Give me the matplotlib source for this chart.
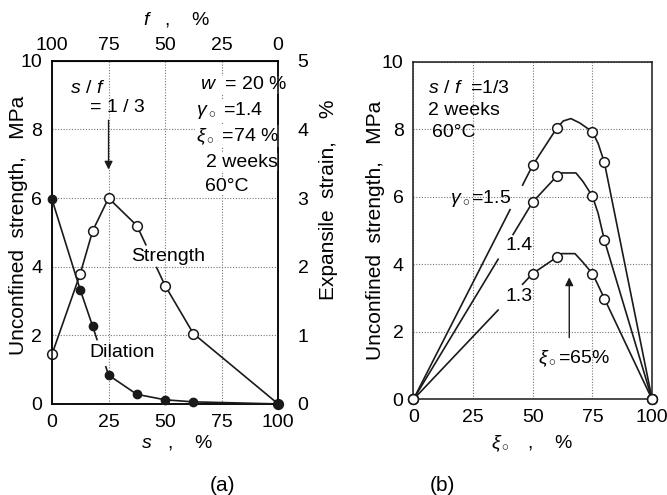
import numpy as np
import matplotlib.pyplot as plt

plt.rcParams['font.family'] = ['Liberation Sans', 'DejaVu Sans']
plt.rcParams['font.size'] = 14
plt.rcParams['mathtext.fontset'] = 'custom'
plt.rcParams['mathtext.rm'] = 'Liberation Sans'
plt.rcParams['mathtext.it'] = 'Liberation Sans:italic'

# ---- panel (a) data
s_pct = [0, 12.5, 18, 25, 37.5, 50, 62.5, 100]
strength_a = [1.45, 3.8, 5.05, 6.0, 5.2, 3.45, 2.05, 0.0]
dilation_a = [2.98, 1.66, 1.13, 0.42, 0.14, 0.06, 0.03, 0.0]

# ---- panel (b) data: measured points and drawn curves
xi_pts = [0, 50, 60, 75, 80, 100]
pts_15 = [0, 6.94, 8.03, 7.93, 7.02, 0]
pts_14 = [0, 5.85, 6.61, 6.02, 4.72, 0]
pts_13 = [0, 3.73, 4.21, 3.73, 2.99, 0]

curve_x_15 = [50, 60, 62.8, 66.0, 69.7, 75, 77.4, 80, 100]
curve_y_15 = [6.94, 8.03, 8.25, 8.32, 8.19, 7.93, 7.58, 7.02, 0]
curve_x_14 = [50, 60, 62.1, 68.1, 71.1, 75, 77.4, 80, 100]
curve_y_14 = [5.85, 6.61, 6.71, 6.71, 6.45, 6.02, 5.51, 4.72, 0]
curve_x_13 = [50, 60, 62.1, 67.7, 70.8, 75, 77.0, 80, 100]
curve_y_13 = [3.73, 4.21, 4.32, 4.32, 4.08, 3.73, 3.44, 2.99, 0]

LW = 1.2
K = '#1a1a1a'


def gapline(ax, x, y, seg, t0, t1, **kw):
    # polyline with a gap on segment seg between fractions t0..t1
    x = list(x); y = list(y)
    xa = x[seg] + t0 * (x[seg + 1] - x[seg]); ya = y[seg] + t0 * (y[seg + 1] - y[seg])
    xb = x[seg] + t1 * (x[seg + 1] - x[seg]); yb = y[seg] + t1 * (y[seg + 1] - y[seg])
    ax.plot(x[:seg + 1] + [xa], y[:seg + 1] + [ya], **kw)
    ax.plot([xb] + x[seg + 1:], [yb] + y[seg + 1:], **kw)


def style(ax):
    ax.grid(True, ls=(0, (1, 1.5)), color='#777777', lw=0.8)
    ax.tick_params(length=0, pad=7)
    for sp in ax.spines.values():
        sp.set_linewidth(1.1)
        sp.set_color(K)


fig = plt.figure(figsize=(6.67, 4.95), dpi=100)

# ================= (a)
ax = fig.add_axes([0.078, 0.184, 0.339, 0.693])
ax.set_xlim(0, 100)
ax.set_ylim(0, 10)
ax.set_xticks([0, 25, 50, 75, 100])
ax.set_yticks([0, 2, 4, 6, 8, 10])
style(ax)
ax.set_ylabel('Unconfined  strength,   MPa', fontsize=15)
ax.yaxis.set_label_coords(-0.105, 0.52)
ax.set_xlabel('$\\it{s}$   ,    %')
ax.xaxis.set_label_coords(0.55, -0.085)

ax2 = ax.twinx()
ax2.set_ylim(0, 5)
ax2.set_yticks([0, 1, 2, 3, 4, 5])
ax2.tick_params(length=0, pad=14)
ax2.set_ylabel('Expansile  strain,    %', fontsize=15)
ax2.yaxis.set_label_coords(1.18, 0.595)
for sp in ax2.spines.values():
    sp.set_linewidth(1.1)

top = ax.secondary_xaxis('top', functions=(lambda v: 100 - v, lambda v: 100 - v))
top.set_xticks([100, 75, 50, 25, 0])
top.tick_params(length=0, pad=5)
ax.text(0.55, 1.12, '$\\it{f}$   ,    %', transform=ax.transAxes, ha='center', va='center')

# strength with gap for label
gapline(ax, s_pct, strength_a, 4, 0.32, 0.7, color=K, lw=LW, zorder=3)
ax.plot(s_pct, strength_a, 'o', ms=7, mfc='white', mec=K, mew=1.1, zorder=4, clip_on=False)
# dilation (right axis units)
gapline(ax2, s_pct, dilation_a, 2, 0.27, 0.83, color=K, lw=LW, zorder=3)
ax2.plot(s_pct, dilation_a, 'o', ms=6, mfc=K, mec=K, zorder=4, clip_on=False)

ax.text(0.513, 0.43, 'Strength', transform=ax.transAxes, ha='center', va='center')
ax.text(0.31, 0.15, 'Dilation', transform=ax.transAxes, ha='center', va='center')

ax.text(0.08, 0.92, '$\\it{s}$ / $\\it{f}$', transform=ax.transAxes, ha='left', va='center')
ax.text(0.17, 0.865, '= 1 / 3', transform=ax.transAxes, ha='left', va='center')
ax.annotate('', xy=(25, 6.75), xytext=(25, 8.35),
            arrowprops=dict(arrowstyle='-|>', color=K, lw=1.0, mutation_scale=12))

info = ['$\\it{w}$  = 20 %', '$\\gamma_\\circ$ =1.4', '$\\xi_\\circ$ =74 %', '2 weeks', '60\u00b0C']
info_y = [0.93, 0.855, 0.78, 0.705, 0.635]
info_x = [0.655, 0.635, 0.635, 0.68, 0.675]
for t, yy, xx in zip(info, info_y, info_x):
    ax.text(xx, yy, t, transform=ax.transAxes, ha='left', va='center', zorder=5,
            bbox=dict(fc='white', ec='none', pad=0.5))

fig.text(0.334, 0.02, '(a)', ha='center', va='center', fontsize=15)

# ================= (b)
bx = fig.add_axes([0.6197, 0.193, 0.358, 0.682])
bx.set_xlim(0, 100)
bx.set_ylim(0, 10)
bx.set_xticks([0, 25, 50, 75, 100])
bx.set_yticks([0, 2, 4, 6, 8, 10])
style(bx)
bx.set_ylabel('Unconfined  strength,   MPa', fontsize=15)
bx.yaxis.set_label_coords(-0.12, 0.5)
bx.set_xlabel('$\\xi_\\circ$   ,    %')
bx.xaxis.set_label_coords(0.5, -0.1)

rising = [(pts_15, 0.81, 0.915), (pts_14, 0.71, 0.835), (pts_13, 0.71, 0.915)]
for pts, t0, t1 in rising:
    gapline(bx, xi_pts[:2], pts[:2], 0, t0, t1, color=K, lw=LW, zorder=3)
for cx, cy in [(curve_x_15, curve_y_15), (curve_x_14, curve_y_14), (curve_x_13, curve_y_13)]:
    bx.plot(cx, cy, color=K, lw=LW, zorder=3)
for pts in [pts_15, pts_14, pts_13]:
    bx.plot(xi_pts, pts, 'o', ms=7, mfc='white', mec=K, mew=1.1, ls='none', zorder=4,
            clip_on=False)

bx.text(0.06, 0.92, '$\\it{s}$ / $\\it{f}$  =1/3', transform=bx.transAxes, ha='left', va='center')
bx.text(0.06, 0.855, '2 weeks', transform=bx.transAxes, ha='left', va='center')
bx.text(0.08, 0.79, '60\u00b0C', transform=bx.transAxes, ha='left', va='center')

bx.text(0.155, 0.595, '$\\gamma_\\circ$=1.5', transform=bx.transAxes, ha='left', va='center')
bx.text(0.385, 0.455, '1.4', transform=bx.transAxes, ha='left', va='center')
bx.text(0.385, 0.305, '1.3', transform=bx.transAxes, ha='left', va='center')

bx.annotate('', xy=(65.3, 3.7), xytext=(65.3, 1.75),
            arrowprops=dict(arrowstyle='-|>', color=K, lw=1.0, mutation_scale=12))
bx.text(0.675, 0.12, '$\\xi_\\circ$=65%', transform=bx.transAxes, ha='center', va='center')

fig.text(0.664, 0.02, '(b)', ha='center', va='center', fontsize=15)

fig.savefig('out.png', dpi=100)
